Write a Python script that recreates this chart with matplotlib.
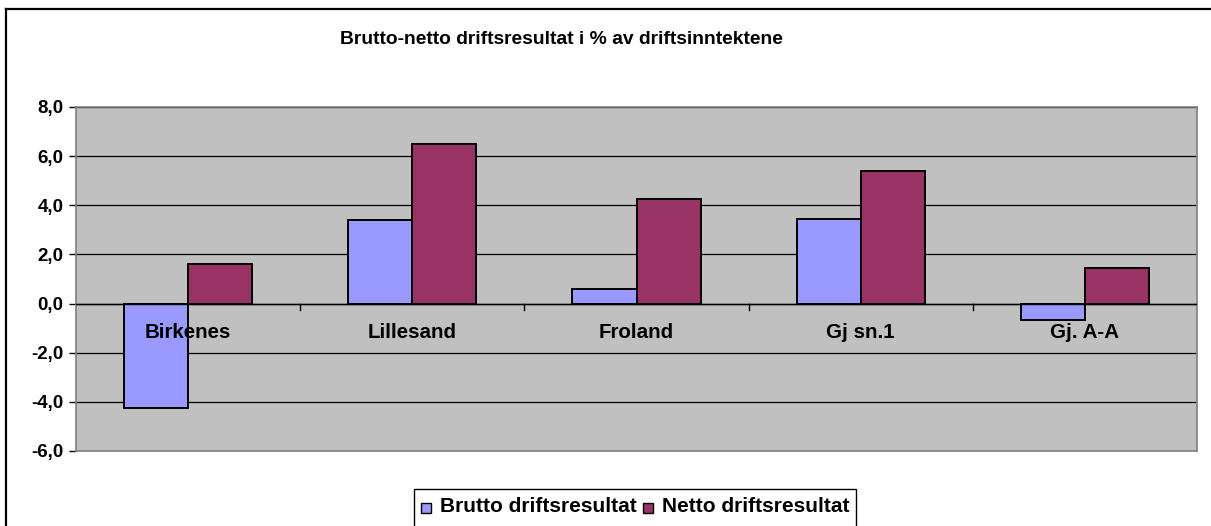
import matplotlib
matplotlib.use("Agg")
import matplotlib.pyplot as plt
from matplotlib.patches import Rectangle
from matplotlib.lines import Line2D
import numpy as np

categories = ["Birkenes", "Lillesand", "Froland", "Gj sn.1", "Gj. A-A"]
brutto = [-4.25, 3.4, 0.58, 3.46, -0.65]
netto = [1.6, 6.5, 4.25, 5.41, 1.45]
series_names = ["Brutto driftsresultat", "Netto driftsresultat"]
yticks = [-6, -4, -2, 0, 2, 4, 6, 8]

W, H = 1211, 526
fig = plt.figure(figsize=(W / 100, H / 100), dpi=100)
fig.patch.set_facecolor("white")
plt.rcParams["font.family"] = ["Liberation Sans", "DejaVu Sans"]

def fx(px):
    return px / W

def fy(py):
    return 1 - py / H

ax = fig.add_axes([fx(76), fy(451), fx(1197) - fx(76), fy(107) - fy(451)])
ax.set_facecolor("#C0C0C0")

x = np.arange(len(categories))
bw = 1 / 3.5
ax.bar(x - bw / 2, brutto, width=bw, color="#9999FF", edgecolor="black", linewidth=1.4, zorder=3)
ax.bar(x + bw / 2, netto, width=bw, color="#993366", edgecolor="black", linewidth=1.4, zorder=3)

ax.set_xlim(-0.5, len(categories) - 0.5)
ax.set_ylim(-6, 8)
ax.set_yticks(yticks)
ax.set_yticklabels([f"{v:.1f}".replace(".", ",") for v in yticks],
                   fontsize=13.5, fontweight="bold")
ax.tick_params(axis="y", length=5, width=1, pad=4, direction="out")
ax.yaxis.grid(True, color="black", linewidth=0.9, zorder=1)
ax.set_axisbelow(True)
ax.set_xticks([])

for s in ["top", "right", "bottom", "left"]:
    ax.spines[s].set_color("#808080")
    ax.spines[s].set_linewidth(1.2)

# zero axis line with tick marks below
ax.axhline(0, color="black", linewidth=1.0, zorder=4)
for b in np.arange(0.5, len(categories) - 0.5, 1.0):
    ax.plot([b, b], [0, -0.25], color="black", linewidth=1.0, zorder=4, clip_on=False)

# category labels just below zero line
for i, c in enumerate(categories):
    ax.annotate(c, xy=(i, 0), xytext=(0, -21), textcoords="offset points",
                ha="center", va="center", fontsize=14.8, fontweight="bold", zorder=5)

# title
fig.text(fx(561), fy(40), "Brutto-netto driftsresultat i % av driftsinntektene",
         ha="center", va="center", fontsize=13.9, fontweight="bold")

# outer chart frame
fig.add_artist(Line2D([fx(6), fx(6)], [fy(9), fy(530)], color="black", linewidth=1.6))
fig.add_artist(Line2D([fx(6), fx(1215)], [fy(9), fy(9)], color="black", linewidth=1.6))

# legend (manual)
fig.add_artist(Rectangle((fx(414), fy(540)), fx(856) - fx(414), fy(489) - fy(540),
                         transform=fig.transFigure, facecolor="white",
                         edgecolor="black", linewidth=1.0))
fig.add_artist(Rectangle((fx(421), fy(513)), fx(10), fy(503) - fy(513),
                         transform=fig.transFigure, facecolor="#9999FF",
                         edgecolor="black", linewidth=1.0))
fig.text(fx(440), fy(507), series_names[0], ha="left", va="center",
         fontsize=15, fontweight="bold")
fig.add_artist(Rectangle((fx(643), fy(513)), fx(10), fy(503) - fy(513),
                         transform=fig.transFigure, facecolor="#993366",
                         edgecolor="black", linewidth=1.0))
fig.text(fx(662), fy(507), series_names[1], ha="left", va="center",
         fontsize=15, fontweight="bold")

fig.savefig("out.png", dpi=100, facecolor="white")
